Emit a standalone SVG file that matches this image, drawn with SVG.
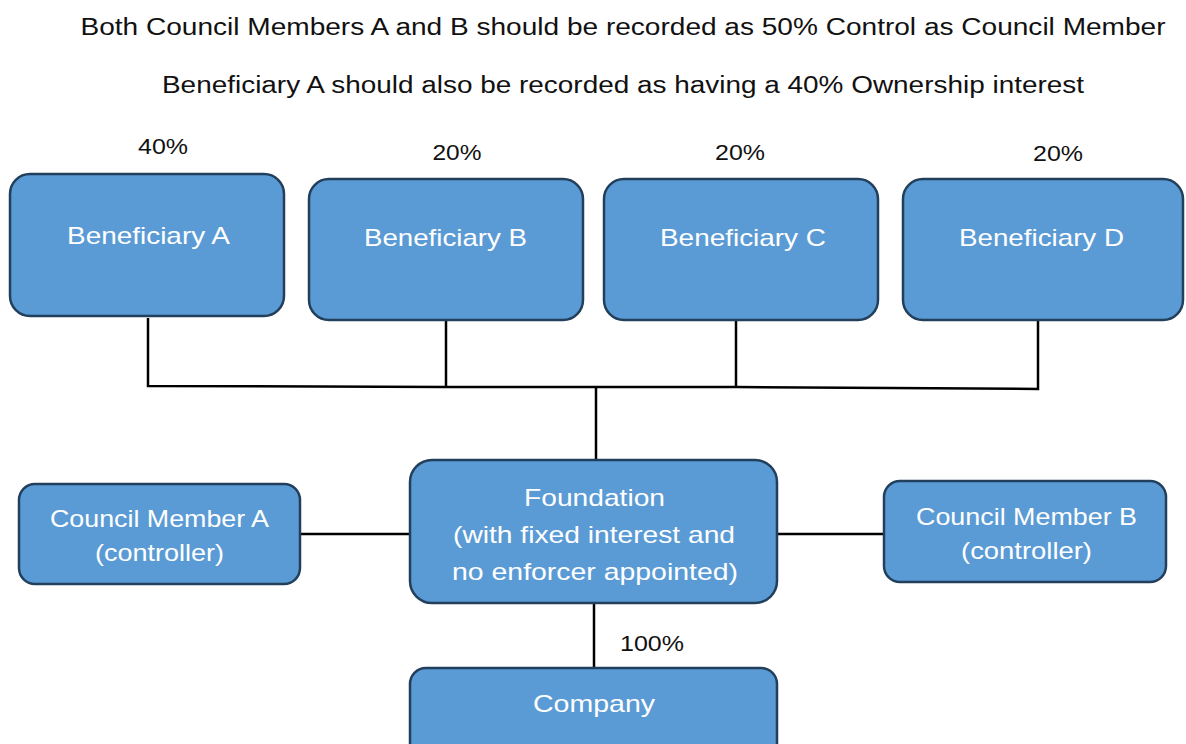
<svg xmlns="http://www.w3.org/2000/svg" width="1186" height="744" viewBox="0 0 1186 744">
  <style>
    .box { fill: #5b9bd5; stroke: #223f5c; stroke-width: 2.5; }
    .lbl { font-family: "Liberation Sans", Arial, sans-serif; font-size: 24px; fill: #ffffff; text-anchor: middle; }
    .note { font-family: "Liberation Sans", Arial, sans-serif; font-size: 23px; fill: #111111; text-anchor: middle; }
    .pct { font-family: "Liberation Sans", Arial, sans-serif; font-size: 22px; fill: #111111; text-anchor: middle; }
    .wire { fill: none; stroke: #000000; stroke-width: 2.5; }
  </style>

  <rect width="1186" height="744" fill="#ffffff"/>

  <!-- heading notes -->
  <text class="note" x="623" y="35" textLength="1085" lengthAdjust="spacingAndGlyphs">Both Council Members A and B should be recorded as 50% Control as Council Member</text>
  <text class="note" x="623" y="93" textLength="922" lengthAdjust="spacingAndGlyphs">Beneficiary A should also be recorded as having a 40% Ownership interest</text>

  <!-- ownership percentages -->
  <text class="pct" x="163" y="154" textLength="50" lengthAdjust="spacingAndGlyphs">40%</text>
  <text class="pct" x="457" y="160" textLength="49" lengthAdjust="spacingAndGlyphs">20%</text>
  <text class="pct" x="740" y="160" textLength="50" lengthAdjust="spacingAndGlyphs">20%</text>
  <text class="pct" x="1058" y="161" textLength="50" lengthAdjust="spacingAndGlyphs">20%</text>
  <text class="pct" x="652" y="651" textLength="64" lengthAdjust="spacingAndGlyphs">100%</text>

  <!-- connectors -->
  <g id="connectors">
    <polyline class="wire" points="148,318 148,386 446,387 736,387 1038,389 1038,320"/>
    <line class="wire" x1="446" y1="320" x2="446" y2="387"/>
    <line class="wire" x1="736" y1="320" x2="736" y2="387"/>
    <line class="wire" x1="596" y1="387" x2="596" y2="461"/>
    <line class="wire" x1="300" y1="534" x2="410" y2="534"/>
    <line class="wire" x1="777" y1="534" x2="884" y2="534"/>
    <line class="wire" x1="594" y1="603" x2="594" y2="669"/>
  </g>

  <g id="beneficiary-a">
    <rect class="box" x="10" y="174" width="274" height="142" rx="20"/>
    <text class="lbl" x="148.5" y="244" textLength="163" lengthAdjust="spacingAndGlyphs">Beneficiary A</text>
  </g>
  <g id="beneficiary-b">
    <rect class="box" x="309" y="179" width="274" height="141" rx="20"/>
    <text class="lbl" x="445.5" y="246" textLength="163" lengthAdjust="spacingAndGlyphs">Beneficiary B</text>
  </g>
  <g id="beneficiary-c">
    <rect class="box" x="604" y="179" width="274" height="141" rx="20"/>
    <text class="lbl" x="743" y="246" textLength="166" lengthAdjust="spacingAndGlyphs">Beneficiary C</text>
  </g>
  <g id="beneficiary-d">
    <rect class="box" x="903" y="179" width="280" height="141" rx="20"/>
    <text class="lbl" x="1041.5" y="246" textLength="165" lengthAdjust="spacingAndGlyphs">Beneficiary D</text>
  </g>

  <g id="foundation">
    <rect class="box" x="410" y="460" width="367" height="143" rx="22"/>
    <text class="lbl" x="594.5" y="506" textLength="141" lengthAdjust="spacingAndGlyphs">Foundation</text>
    <text class="lbl" x="594" y="543" textLength="282" lengthAdjust="spacingAndGlyphs">(with fixed interest and</text>
    <text class="lbl" x="595" y="580" textLength="286" lengthAdjust="spacingAndGlyphs">no enforcer appointed)</text>
  </g>

  <g id="council-a">
    <rect class="box" x="19" y="484" width="281" height="100" rx="16"/>
    <text class="lbl" x="159.5" y="527" textLength="219" lengthAdjust="spacingAndGlyphs">Council Member A</text>
    <text class="lbl" x="159.5" y="561" textLength="129" lengthAdjust="spacingAndGlyphs">(controller)</text>
  </g>

  <g id="council-b">
    <rect class="box" x="884" y="481" width="282" height="101" rx="16"/>
    <text class="lbl" x="1026.5" y="525" textLength="221" lengthAdjust="spacingAndGlyphs">Council Member B</text>
    <text class="lbl" x="1026.5" y="559" textLength="131" lengthAdjust="spacingAndGlyphs">(controller)</text>
  </g>

  <g id="company">
    <rect class="box" x="410" y="668" width="367" height="100" rx="16"/>
    <text class="lbl" x="594" y="712" textLength="122" lengthAdjust="spacingAndGlyphs">Company</text>
  </g>
</svg>
